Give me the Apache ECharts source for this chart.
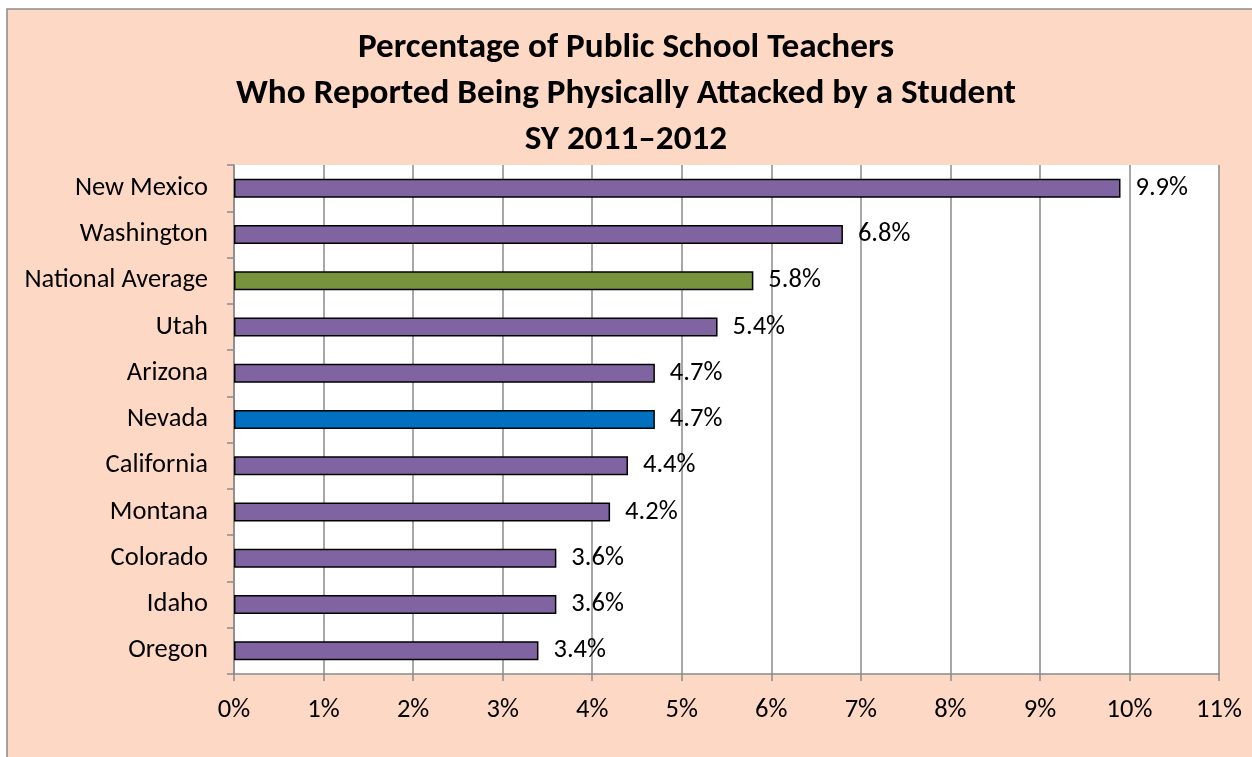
<!DOCTYPE html>
<html>
<head>
<meta charset="utf-8">
<script src="https://cdn.jsdelivr.net/npm/echarts@6/dist/echarts.min.js"></script>
<style>
  html, body { margin: 0; padding: 0; background: #ffffff; }
  #chart { width: 1252px; height: 757px; }
</style>
</head>
<body>
<div id="chart"></div>
<script>
// data (percent)
const states = ['New Mexico', 'Washington', 'National Average', 'Utah', 'Arizona', 'Nevada',
  'California', 'Montana', 'Colorado', 'Idaho', 'Oregon']
const values = [9.9, 6.8, 5.8, 5.4, 4.7, 4.7, 4.4, 4.2, 3.6, 3.6, 3.4]
const barColors = ['#8064A2', '#8064A2', '#77933C', '#8064A2', '#8064A2', '#0070C0',
  '#8064A2', '#8064A2', '#8064A2', '#8064A2', '#8064A2']
const titleLines = [
  'Percentage of Public School Teachers',
  'Who Reported Being Physically Attacked by a Student',
  'SY 2011\u20132012'
]

const font = 'Carlito, Lato, "Open Sans", sans-serif'
const chart = echarts.init(document.getElementById('chart'))

const option = {
  animation: false,
  textStyle: { fontFamily: font },
  graphic: [
    {
      // peach chart area with its grey border (only left/top fall inside the picture)
      type: 'rect',
      z: -10,
      silent: true,
      shape: { x: 7, y: 9, width: 1260, height: 770 },
      style: { fill: '#FDD8C4', stroke: '#8A8A8A', lineWidth: 1.5 }
    }
  ],
  title: {
    text: titleLines.join('\n'),
    left: 'center',
    top: 20,
    textStyle: {
      fontFamily: font,
      fontSize: 35.2,
      fontWeight: 'bold',
      color: '#000',
      lineHeight: 46
    }
  },
  grid: {
    left: 234,
    right: 33,
    top: 165,
    bottom: 83,
    show: true,
    backgroundColor: '#ffffff',
    borderWidth: 0
  },
  xAxis: {
    type: 'value',
    min: 0,
    max: 11,
    interval: 1,
    axisLine: { show: true, lineStyle: { color: '#8A8A8A', width: 1.5 } },
    axisTick: { show: true, length: 7, lineStyle: { color: '#8A8A8A', width: 1.5 } },
    splitLine: { show: true, lineStyle: { color: '#8A8A8A', width: 1.5 } },
    axisLabel: {
      formatter: '{value}%',
      color: '#000',
      fontSize: 26.5,
      margin: 23
    }
  },
  yAxis: {
    type: 'category',
    inverse: true,
    data: states,
    axisLine: { show: true, lineStyle: { color: '#8A8A8A', width: 1.5 } },
    axisTick: { show: true, length: 7, lineStyle: { color: '#8A8A8A', width: 1.5 } },
    axisLabel: { color: '#000', fontSize: 26.5, margin: 26 },
    splitLine: { show: false }
  },
  series: [
    {
      type: 'bar',
      barWidth: 19,
      data: values.map((v, i) => ({
        value: v,
        itemStyle: { color: barColors[i] }
      })),
      itemStyle: { borderColor: '#000', borderWidth: 1.5 },
      label: {
        show: true,
        position: 'right',
        distance: 15,
        formatter: p => p.value.toFixed(1) + '%',
        color: '#000',
        fontSize: 26.5
      }
    }
  ]
}
chart.setOption(option)
</script>
</body>
</html>
